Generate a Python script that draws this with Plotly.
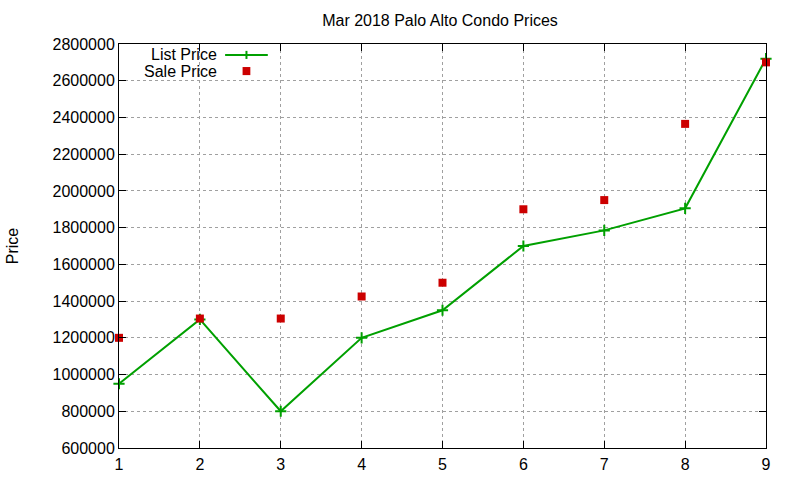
"""
Palo Alto condo prices, March 2018 (gnuplot-style chart redone in Plotly)
"""

import plotly.graph_objects as go

# data
sale_index = [1, 2, 3, 4, 5, 6, 7, 8, 9]
list_price = [950000, 1300000, 800000, 1200000, 1350000, 1700000, 1785000, 1905000, 2720000]
sale_price = [1200000, 1305000, 1305000, 1425000, 1500000, 1900000, 1950000, 2365000, 2700000]
y_ticks = list(range(600000, 2800001, 200000))

GREEN = "#00a000"
RED = "#cc0000"
FONT = "Liberation Sans, Arial, sans-serif"

fig = go.Figure()

fig.add_trace(
    go.Scatter(
        x=sale_index,
        y=list_price,
        mode="lines+markers",
        name="List Price",
        line=dict(color=GREEN, width=2),
        marker=dict(symbol="cross-thin", size=8, line=dict(color=GREEN, width=2)),
        cliponaxis=False,
    )
)
fig.add_trace(
    go.Scatter(
        x=sale_index,
        y=sale_price,
        mode="markers",
        name="Sale Price",
        marker=dict(symbol="square", size=8, color=RED),
        cliponaxis=False,
    )
)

axis_style = dict(
    showline=True,
    linecolor="black",
    linewidth=1,
    mirror="ticks",
    ticks="inside",
    ticklen=7,
    tickcolor="black",
    showgrid=True,
    gridcolor="#a0a0a0",
    griddash="3px,3px",
    gridwidth=1,
    zeroline=False,
    automargin=False,
    tickfont=dict(family=FONT, size=16, color="black"),
)

fig.update_xaxes(range=[1, 9], tickvals=sale_index, ticklabelstandoff=2, **axis_style)
fig.update_yaxes(
    range=[600000, 2800000],
    tickvals=y_ticks,
    ticktext=[str(v) for v in y_ticks],
    **axis_style,
)

# y axis label, placed far left like gnuplot does
fig.add_annotation(
    text="Price", xref="paper", yref="paper", x=-0.165, y=0.5,
    xanchor="center", yanchor="middle", textangle=-90, showarrow=False,
    font=dict(family=FONT, size=16, color="black"),
)

# gnuplot-style key: text right-aligned, sample to its right
key_rows = [("List Price", 0.973), ("Sale Price", 0.933)]
for label, ypos in key_rows:
    fig.add_annotation(
        text=label, xref="paper", yref="paper", x=0.155, y=ypos,
        xanchor="right", yanchor="middle", showarrow=False,
        font=dict(family=FONT, size=16, color="black"),
    )
fig.add_shape(type="line", xref="paper", yref="paper", x0=0.164, x1=0.230,
              y0=0.973, y1=0.973, line=dict(color=GREEN, width=2))
fig.add_shape(type="line", xref="paper", yref="paper", x0=0.197, x1=0.197,
              y0=0.963, y1=0.983, line=dict(color=GREEN, width=2))
fig.add_shape(type="rect", xref="paper", yref="paper", x0=0.191, x1=0.203,
              y0=0.923, y1=0.943, line=dict(width=0), fillcolor=RED)

fig.update_layout(
    width=800,
    height=480,
    margin=dict(l=119, r=34, t=44, b=32),
    paper_bgcolor="white",
    plot_bgcolor="white",
    showlegend=False,
    title=dict(
        text="Mar 2018 Palo Alto Condo Prices",
        x=0.55, xanchor="center", y=1 - 20 / 480, yanchor="middle",
        font=dict(family=FONT, size=16, color="black"),
    ),
    font=dict(family=FONT, size=16, color="black"),
)

# drop the default body margin so the figure fills the window from 0,0
fig.write_html(
    "out.html",
    config={"displayModeBar": False},
    post_script="document.body.style.margin = '0';",
)
